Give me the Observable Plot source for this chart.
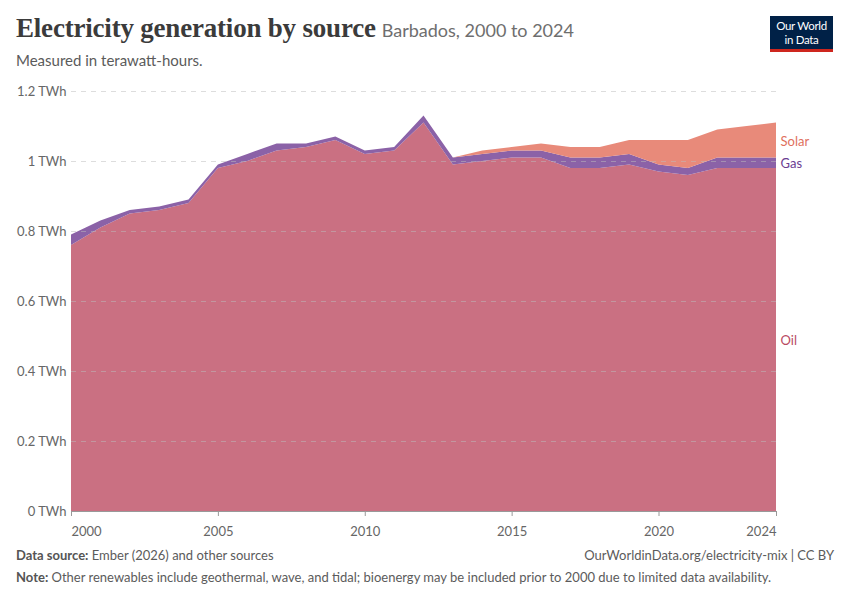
<!DOCTYPE html>
<html>
<head>
<meta charset="utf-8">
<script src="https://cdn.jsdelivr.net/npm/d3@7"></script>
<script src="https://cdn.jsdelivr.net/npm/@observablehq/plot@0.6"></script>
<style>
  body { margin: 0; width: 850px; height: 600px; background: #fff; font-family: Lato, "Noto Sans", sans-serif; position: relative; overflow: hidden; }
  .title { position: absolute; left: 16px; top: 13px; white-space: nowrap; }
  .title .main { font-family: "Liberation Serif", "DejaVu Serif", serif; font-weight: bold; font-size: 27px; color: #3b3b3b; letter-spacing: -0.2px; }
  .title .sub { font-family: Lato, sans-serif; font-size: 18px; color: #6e6e6e; margin-left: 6px; }
  .subtitle { position: absolute; left: 16px; top: 51px; font-size: 15px; color: #5b5b5b; }
  .logo { position: absolute; left: 770px; top: 16px; width: 63px; height: 36px; background: #002147; border-bottom: 3px solid #ce261e; box-sizing: border-box; }
  .logo div { position: absolute; left: 0; width: 63px; text-align: center; color: #fff; font-size: 11.5px; line-height: 12px; letter-spacing: -0.3px; }
  #chart { position: absolute; left: 0; top: 80px; }
  .foot { position: absolute; font-size: 13px; color: #5b5b5b; white-space: nowrap; }
  .foot b { color: #555; font-weight: bold; }
</style>
</head>
<body>
<div class="title"><span class="main">Electricity generation by source</span><span class="sub">Barbados, 2000 to 2024</span></div>
<div class="subtitle">Measured in terawatt-hours.</div>
<div class="logo"><div style="top:4px;">Our World</div><div style="top:18px;">in Data</div></div>
<div id="chart"></div>
<div class="foot" style="left:16px; top:547px;"><b>Data source:</b> Ember (2026) and other sources</div>
<div class="foot" style="right:16px; top:547px;">OurWorldinData.org/electricity-mix | CC BY</div>
<div class="foot" style="left:16px; top:569px;"><b>Note:</b> Other renewables include geothermal, wave, and tidal; bioenergy may be included prior to 2000 due to limited data availability.</div>
<script>
const years = [2000,2001,2002,2003,2004,2005,2006,2007,2008,2009,2010,2011,2012,2013,2014,2015,2016,2017,2018,2019,2020,2021,2022,2023,2024];
const oil   = [0.76,0.81,0.85,0.86,0.88,0.98,1.00,1.03,1.04,1.06,1.02,1.03,1.11,0.99,1.00,1.01,1.01,0.98,0.98,0.99,0.97,0.96,0.98,0.98,0.98];
const gas   = [0.03,0.02,0.01,0.01,0.01,0.01,0.02,0.02,0.01,0.01,0.01,0.01,0.02,0.02,0.02,0.02,0.02,0.03,0.03,0.03,0.02,0.02,0.03,0.03,0.03];
const solar = [0,0,0,0,0,0,0,0,0,0,0,0,0,0,0.01,0.01,0.02,0.03,0.03,0.04,0.07,0.08,0.08,0.09,0.10];
const sources = ["Oil","Gas","Solar"];
const fillColors = ["#ca7082","#8b62a7","#e88a7a"];
const labelColors = ["#b94a62","#6b3d92","#e0705e"];
const yTicks = [0,0.2,0.4,0.6,0.8,1,1.2];
const xTicks = [2000,2005,2010,2015,2020,2024];

const series = {Oil: oil, Gas: gas, Solar: solar};
const data = [];
for (const s of sources) years.forEach((y, i) => data.push({year: y, source: s, value: series[s][i]}));

const last = years.length - 1;
let base = 0;
const labels = sources.map((s, k) => {
  const v = series[s][last];
  const d = {source: s, year: years[last], mid: base + v / 2, color: labelColors[k]};
  base += v;
  return d;
});

const chart = Plot.plot({
  width: 850,
  height: 460,
  marginLeft: 71,
  marginRight: 74,
  marginTop: 11,
  marginBottom: 29,
  style: {fontFamily: "Lato, sans-serif", fontSize: "13px", color: "#666", background: "transparent"},
  x: {domain: [2000, 2024]},
  y: {domain: [0, 1.2]},
  color: {domain: sources, range: fillColors},
  marks: [
    Plot.areaY(data, {x: "year", y: "value", z: "source", fill: "source", order: sources}),
    Plot.ruleY(yTicks.filter(d => d > 0), {stroke: "#bbb", strokeOpacity: 0.5, strokeDasharray: "5,5"}),
    Plot.ruleY([0], {stroke: "#999"}),
    Plot.axisY({ticks: yTicks, tickSize: 0, tickPadding: 5, label: null,
      tickFormat: d => `${d} TWh`, fill: "#666"}),
    Plot.axisX({ticks: xTicks, tickSize: 5, tickFormat: () => "", label: null, stroke: "#999"}),
    Plot.text(xTicks.slice(0,1), {x: d => d, y: 0, dy: 15, lineAnchor: "top", textAnchor: "start", text: d => String(d), fill: "#666"}),
    Plot.text(xTicks.slice(1,-1), {x: d => d, y: 0, dy: 15, lineAnchor: "top", textAnchor: "middle", text: d => String(d), fill: "#666"}),
    Plot.text(xTicks.slice(-1), {x: d => d, y: 0, dy: 15, lineAnchor: "top", textAnchor: "end", text: d => String(d), fill: "#666"}),
    Plot.text(labels, {x: "year", y: "mid", text: "source", fill: d => d.color, textAnchor: "start", dx: 4, dy: 1, fontSize: 13})
  ]
});
document.getElementById("chart").appendChild(chart);
</script>
</body>
</html>
